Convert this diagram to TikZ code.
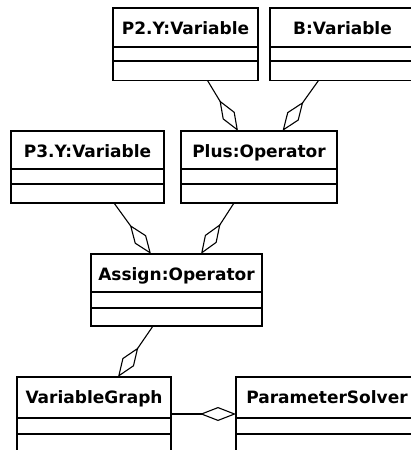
\documentclass[tikz,border=0pt]{standalone}
\usepackage{fontspec}
\setmainfont{DejaVu Sans}
\usetikzlibrary{arrows.meta,calc}
\newcommand\umlclass[8]{%
  \node[umlbox, minimum width=#4pt, minimum height=#5pt] (#1) at (#2,#3) {};
  \node[umltitle] (#1-t) at ($(#1.north)+(0,26.5)$) {#6};
  \draw[umlline] ($(#1.north west)+(0,#7)$) -- ($(#1.north east)+(0,#7)$);
  \draw[umlline] ($(#1.north west)+(0,#8)$) -- ($(#1.north east)+(0,#8)$);
}
\begin{document}
\begin{tikzpicture}[x=1pt,y=-1pt,
  umlbox/.style={draw, line width=1.5pt, anchor=north west, inner sep=0pt, outer sep=0pt},
  umlline/.style={line width=1.5pt},
  umltitle/.style={font=\bfseries\fontsize{17}{20}\selectfont, anchor=base, inner sep=0pt},
  agg/.style={line width=1.1pt, -{Diamond[open,length=36pt,width=14pt,line width=1.1pt]}}]
\useasboundingbox (0,0) rectangle (411,450);
\begin{scope}
\clip (0,0) rectangle (411,450);
\umlclass{p2}{113}{8}{145}{72.5}{P2.Y:Variable}{39}{53}
\umlclass{b}{270}{8}{145}{72.5}{B:Variable}{39}{53}
\umlclass{p3}{11}{131}{153}{72}{P3.Y:Variable}{38}{53}
\umlclass{plus}{181}{131}{156}{72}{Plus:Operator}{38}{53}
\umlclass{assign}{91}{254}{171}{72}{Assign:Operator}{38}{54}
\umlclass{vg}{17}{377}{154}{90}{VariableGraph}{41}{57}
\umlclass{ps}{236}{377}{182}{90}{ParameterSolver}{41}{57}
\draw[agg] ($(p2.south west)+(94.5,0)$) -- ($(plus.north west)+(57,0)$);
\draw[agg] ($(b.south west)+(48.5,0)$) -- ($(plus.north west)+(101.5,0)$);
\draw[agg] ($(p3.south west)+(103,0)$) -- ($(assign.north west)+(60,0)$);
\draw[agg] ($(plus.south west)+(53,0)$) -- ($(assign.north west)+(110,0)$);
\draw[agg] ($(assign.south west)+(62,0)$) -- ($(vg.north west)+(101,0)$);
\draw[agg] ($(vg.north east)+(0,37)$) -- ($(ps.north west)+(0,37)$);
\end{scope}
\end{tikzpicture}
\end{document}
